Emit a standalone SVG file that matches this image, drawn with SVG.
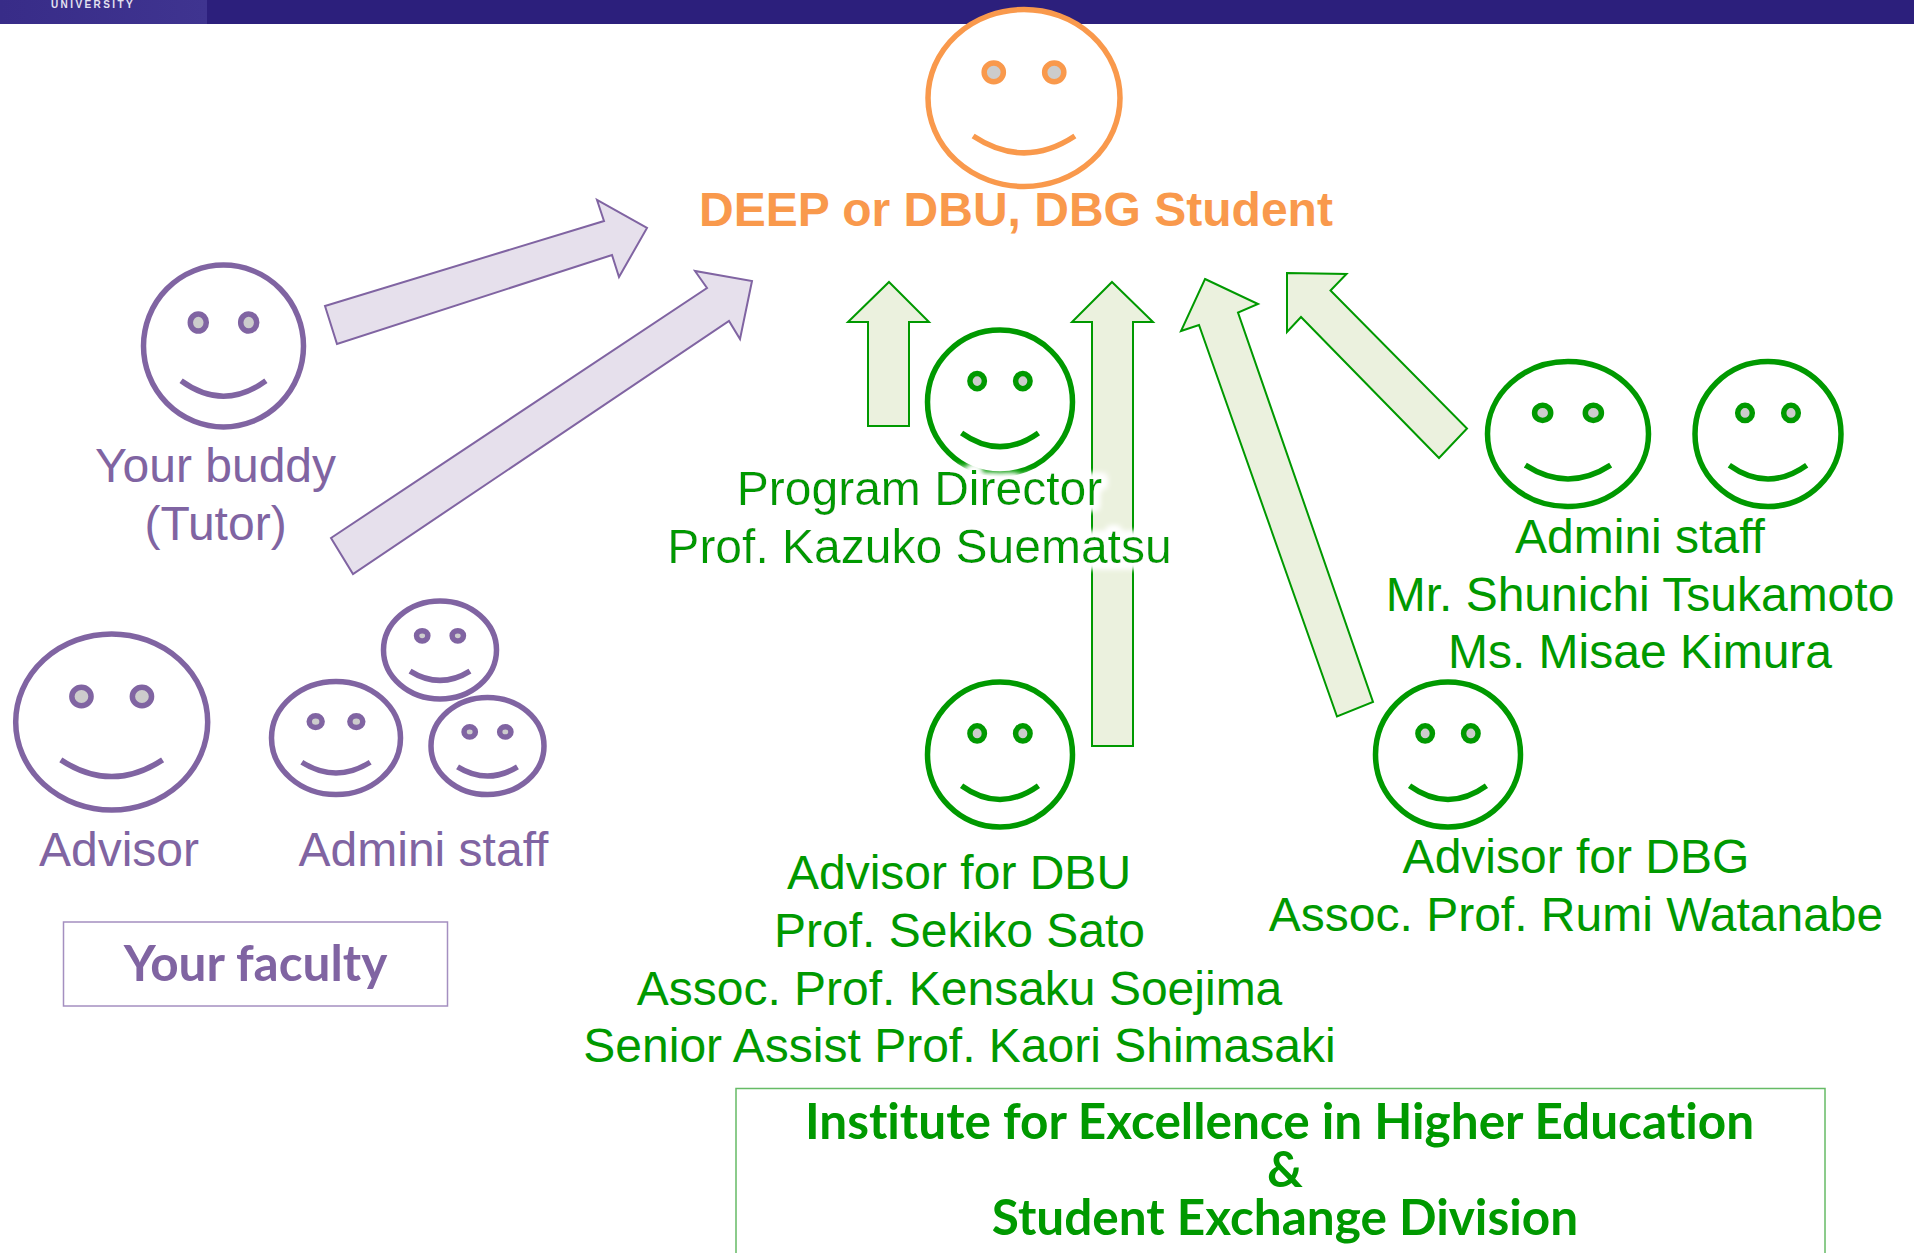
<svg xmlns="http://www.w3.org/2000/svg" width="1914" height="1253" viewBox="0 0 1914 1253">
<style>
text{font-family:"Liberation Sans",Arial,sans-serif;font-size:48px;text-anchor:middle}
.p{fill:#8064a2}.g{fill:#009900}.o{fill:#f9994c;font-weight:bold}
.k{font-family:Lato,"Noto Sans",sans-serif;font-weight:bold;font-size:49.5px;font-variant-ligatures:none}
.fp{stroke:#8064a2}.fg{stroke:#009900}.fo{stroke:#f9994c}
.ar{stroke-width:2;stroke-linejoin:miter}
.ap{fill:#e6e0ec;stroke:#8064a2}.ag{fill:#ebf1de;stroke:#009900}
.glow{filter:url(#glow)}
.hd{vector-effect:non-scaling-stroke;stroke-width:5.5}
</style>
<defs>
<linearGradient id="logo" x1="0" x2="1" y1="0" y2="0"><stop offset="0" stop-color="#382c88"/><stop offset="1" stop-color="#3f3490"/></linearGradient>
<filter id="glow" x="-10%" y="-40%" width="120%" height="180%">
<feMorphology in="SourceAlpha" operator="dilate" radius="3.5" result="d"/>
<feGaussianBlur in="d" stdDeviation="3" result="b"/>
<feFlood flood-color="#fff"/><feComposite in2="b" operator="in" result="w"/>
<feMerge><feMergeNode in="w"/><feMergeNode in="w"/><feMergeNode in="w"/><feMergeNode in="SourceGraphic"/></feMerge>
</filter>
<g id="face">
<ellipse class="hd" rx="100" ry="100" fill="#fff"/>
<ellipse class="hd" cx="-31.5" cy="-29" rx="10" ry="10.5" fill="#ccc"/>
<ellipse class="hd" cx="31.5" cy="-29" rx="10" ry="10.5" fill="#ccc"/>
<path class="hd" d="M-53,43Q0,81 53,43" fill="none"/>
</g>
</defs>
<g id="header">
<rect x="0" y="0" width="1914" height="24" fill="#2c1f7c"/>
<rect x="0" y="0" width="207" height="24" fill="url(#logo)"/>
<text x="93" y="8" fill="#e4e2f0" style="font-size:10px;font-weight:bold;letter-spacing:2.4px">UNIVERSITY</text>
</g>
<g id="connectors">
<polygon class="ar ap" points="325,306 604,221 597,200 647,228 619,277 612,255 337,344"/>
<polygon class="ar ap" points="331,538 707,288 695,271 752,281 740,339 729,321 353,574"/>
<polygon class="ar ag" points="889,282 929,322 909,322 909,426 868,426 868,322 848,322"/>
<polygon class="ar ag" points="1112,282 1153,322 1133,322 1133,746 1092,746 1092,322 1072,322"/>
<polygon class="ar ag" points="1205,279 1258,304 1238,312.5 1373,702 1337,716.5 1199,325 1181,331"/>
<polygon class="ar ag" points="1287,273 1346.5,274 1330.5,290.5 1467,428.5 1439,458 1301,317 1287,332"/>
</g>
<g id="student">
<use href="#face" class="fo" transform="translate(1024,98) scale(.96,.885)"/>
<text class="o" x="1016" y="226">DEEP or DBU, DBG Student</text>
</g>
<g id="buddy">
<use href="#face" class="fp" transform="translate(223.5,346) scale(.8,.81)"/>
<text class="p" x="215.500" y="482">Your buddy</text>
<text class="p" x="215.500" y="540">(Tutor)</text>
</g>
<g id="advisor-faculty">
<use href="#face" class="fp" transform="translate(111.7,722) scale(.96,.88)"/>
<text class="p" x="119" y="866">Advisor</text>
</g>
<g id="admin-faculty">
<use href="#face" class="fp" transform="translate(336,738) scale(.645,.565)"/>
<use href="#face" class="fp" transform="translate(440,650) scale(.565,.49)"/>
<use href="#face" class="fp" transform="translate(487.500,746) scale(.565,.485)"/>
<text class="p" x="423.500" y="866">Admini staff</text>
</g>
<g id="your-faculty">
<rect x="63.5" y="922" width="384" height="84" fill="#fff" stroke="#a48fc0" stroke-width="1.5"/>
<text class="p k" x="255.500" y="981">Your faculty</text>
</g>
<g id="director">
<use href="#face" class="fg" transform="translate(1000,402) scale(.725,.72)"/>
<g class="glow">
<text class="g" x="919.500" y="505">Program Director</text>
<text class="g" x="919.500" y="563">Prof. Kazuko Suematsu</text>
</g>
</g>
<g id="admin-green">
<use href="#face" class="fg" transform="translate(1568,434) scale(.805,.725)"/>
<use href="#face" class="fg" transform="translate(1768,434) scale(.73,.725)"/>
<text class="g" x="1640" y="553">Admini staff</text>
<text class="g" x="1640" y="611">Mr. Shunichi Tsukamoto</text>
<text class="g" x="1640" y="668">Ms. Misae Kimura</text>
</g>
<g id="advisor-dbu">
<use href="#face" class="fg" transform="translate(1000,754.500) scale(.725,.725)"/>
<text class="g" x="959" y="889">Advisor for DBU</text>
<text class="g" x="959.500" y="947">Prof. Sekiko Sato</text>
<text class="g" x="959.500" y="1005">Assoc. Prof. Kensaku Soejima</text>
<text class="g" x="959.500" y="1062">Senior Assist Prof. Kaori Shimasaki</text>
</g>
<g id="advisor-dbg">
<use href="#face" class="fg" transform="translate(1448,754.500) scale(.725,.725)"/>
<text class="g" x="1576" y="873">Advisor for DBG</text>
<text class="g" x="1576" y="931">Assoc. Prof. Rumi Watanabe</text>
</g>
<g id="institute">
<rect x="736" y="1088.500" width="1089" height="180" fill="#fff" stroke="#66bb66" stroke-width="1.5"/>
<text class="g k" x="1279.500" y="1139">Institute for Excellence in Higher Education</text>
<text class="g k" x="1285" y="1187">&amp;</text>
<text class="g k" x="1285" y="1235">Student Exchange Division</text>
</g>
</svg>
